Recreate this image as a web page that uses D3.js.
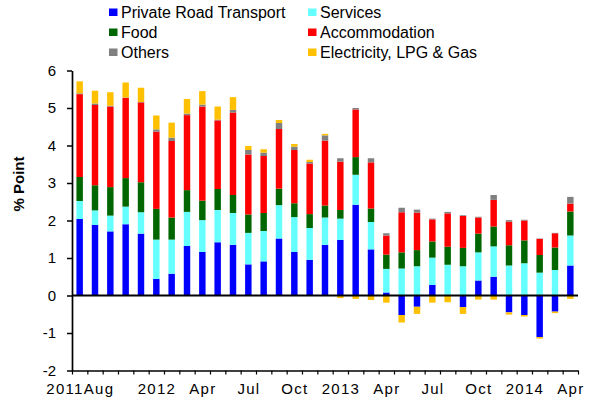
<!DOCTYPE html>
<html>
<head>
<meta charset="utf-8">
<script src="https://cdn.jsdelivr.net/npm/d3@7"></script>
<style>
  body { margin: 0; background: #fff; }
  text { font-family: "Liberation Sans", Arial, sans-serif; fill: #000; }
</style>
</head>
<body>
<script>
// Data: monthly contribution to inflation, Aug 2011 - Apr 2014 (% point)
const months = ["2011Aug", "", "", "", "", "2012", "", "", "Apr", "", "", "Jul", "", "", "Oct", "", "",
                "2013", "", "", "Apr", "", "", "Jul", "", "", "Oct", "", "", "2014", "", "", "Apr"];
const transport   = [2.04, 1.88, 1.71, 1.90, 1.65, 0.44, 0.58, 1.32, 1.16, 1.42, 1.35, 0.83, 0.91, 1.52, 1.16, 0.95, 1.35,
                     1.48, 2.42, 1.23, 0.08, -0.52, -0.30, 0.28, 0.00, -0.31, 0.40, 0.50, -0.45, -0.52, -1.11, -0.43, 0.80];
const services    = [0.48, 0.39, 0.42, 0.47, 0.57, 1.05, 0.91, 0.91, 0.85, 0.86, 0.85, 0.84, 0.81, 0.89, 0.93, 0.85, 0.73,
                     0.57, 0.80, 0.73, 0.63, 0.72, 0.78, 0.73, 0.82, 0.78, 0.75, 0.81, 0.80, 0.86, 0.61, 0.68, 0.80];
const food        = [0.64, 0.67, 0.76, 0.76, 0.80, 0.82, 0.59, 0.58, 0.52, 0.56, 0.48, 0.49, 0.48, 0.44, 0.37, 0.37, 0.32,
                     0.23, 0.47, 0.36, 0.38, 0.43, 0.43, 0.43, 0.48, 0.49, 0.50, 0.53, 0.54, 0.61, 0.47, 0.60, 0.64];
const accommodation = [2.21, 2.14, 2.15, 2.14, 2.13, 2.06, 2.04, 2.00, 2.51, 1.83, 2.20, 1.60, 1.52, 1.59, 1.42, 1.35, 1.73,
                     1.29, 1.27, 1.23, 0.51, 1.07, 1.00, 0.59, 0.89, 0.85, 0.43, 0.71, 0.63, 0.53, 0.43, 0.38, 0.21];
const others      = [0.02, 0.04, 0.02, 0.01, 0.01, 0.06, 0.09, 0.04, 0.05, 0.02, 0.07, 0.12, 0.09, 0.16, 0.09, 0.04, 0.14,
                     0.09, 0.04, 0.11, 0.06, 0.12, 0.08, 0.02, 0.04, 0.02, 0.02, 0.13, 0.04, 0.02, 0.01, 0.01, 0.18];
const electricity = [0.32, 0.34, 0.36, 0.40, 0.38, 0.37, 0.40, 0.39, 0.36, 0.35, 0.34, 0.11, 0.09, 0.08, 0.07, 0.06, 0.04,
                     -0.07, -0.09, -0.12, -0.19, -0.20, -0.19, -0.19, -0.18, -0.18, -0.11, -0.11, -0.06, -0.04, -0.04, -0.04, -0.09];
const yTicks = [-2, -1, 0, 1, 2, 3, 4, 5, 6];

const series = [
  {name: "Private Road Transport", values: transport, color: "#0000ff"},
  {name: "Services", values: services, color: "#66ffff"},
  {name: "Food", values: food, color: "#006600"},
  {name: "Accommodation", values: accommodation, color: "#ff0000"},
  {name: "Others", values: others, color: "#808080"},
  {name: "Electricity, LPG & Gas", values: electricity, color: "#ffc000"}
];

const width = 593, height = 404;
const margin = {left: 72, right: 15, top: 70.5, bottom: 33.5};

const svg = d3.select("body").append("svg")
    .attr("width", width)
    .attr("height", height);

const x = d3.scaleBand()
    .domain(d3.range(months.length))
    .range([margin.left, width - margin.right])
    .paddingInner(0.58)
    .paddingOuter(0.29);

const y = d3.scaleLinear()
    .domain([-2, 6])
    .range([height - margin.bottom, margin.top]);

// build stacked segments: positives go up, negatives go down
const segs = [];
months.forEach(function(m, i) {
  let pos = 0, neg = 0;
  series.forEach(function(s) {
    const v = s.values[i];
    if (v >= 0) { segs.push({i: i, y0: pos, y1: pos + v, color: s.color}); pos += v; }
    else { segs.push({i: i, y0: neg + v, y1: neg, color: s.color}); neg += v; }
  });
});

svg.append("g").selectAll("rect")
  .data(segs.filter(d => d.y1 - d.y0 > 0))
  .enter().append("rect")
    .attr("x", d => x(d.i))
    .attr("width", x.bandwidth())
    .attr("y", d => y(d.y1))
    .attr("height", d => y(d.y0) - y(d.y1))
    .attr("fill", d => d.color);

// zero line
svg.append("line")
    .attr("x1", margin.left).attr("x2", width - margin.right)
    .attr("y1", y(0)).attr("y2", y(0))
    .attr("stroke", "#000").attr("stroke-width", 2);

// y axis
const yAxis = svg.append("g")
    .attr("transform", "translate(" + margin.left + ",0)")
    .call(d3.axisLeft(y).tickValues(yTicks).tickFormat(d => String(d))
      .tickSize(5).tickPadding(11).tickSizeOuter(0));
yAxis.select(".domain").attr("stroke-width", 1.7);
yAxis.selectAll(".tick line").attr("stroke-width", 1.5);
yAxis.selectAll("text").style("font-size", "15px");

// x axis: ticks at month boundaries
const xt = d3.scaleLinear().domain([0, months.length]).range(x.range());
const xAxis = svg.append("g")
    .attr("transform", "translate(0," + y(-2) + ")")
    .call(d3.axisBottom(xt).tickValues(d3.range(months.length + 1)).tickFormat("").tickSize(4).tickSizeOuter(0));
xAxis.select(".domain").attr("stroke-width", 1.7);
xAxis.selectAll(".tick line").attr("stroke-width", 1.2);

svg.append("g").selectAll("text")
  .data(months.map((m, i) => ({m: m, i: i})).filter(d => d.m !== ""))
  .enter().append("text")
    .attr("x", d => x(d.i) + x.bandwidth() / 2 + 0.6)
    .attr("y", 394)
    .attr("text-anchor", "middle")
    .style("font-size", "15px")
    .style("letter-spacing", "1.3px")
    .text(d => d.m);

// y axis title
svg.append("text")
    .attr("transform", "translate(24,184) rotate(-90)")
    .attr("text-anchor", "middle")
    .style("font-size", "15px")
    .style("font-weight", "bold")
    .text("% Point");

// legend
const legend = svg.append("g").selectAll("g")
  .data(series)
  .enter().append("g")
    .attr("transform", (d, i) => "translate(" + (i % 2 === 0 ? 109 : 308) + "," + (Math.floor(i / 2) * 20) + ")");
legend.append("rect")
    .attr("x", 0).attr("y", 8.5)
    .attr("width", 8.5).attr("height", 7.5)
    .attr("fill", d => d.color);
legend.append("text")
    .attr("x", 12).attr("y", 17.5)
    .style("font-size", "16px")
    .text(d => d.name);
</script>
</body>
</html>
